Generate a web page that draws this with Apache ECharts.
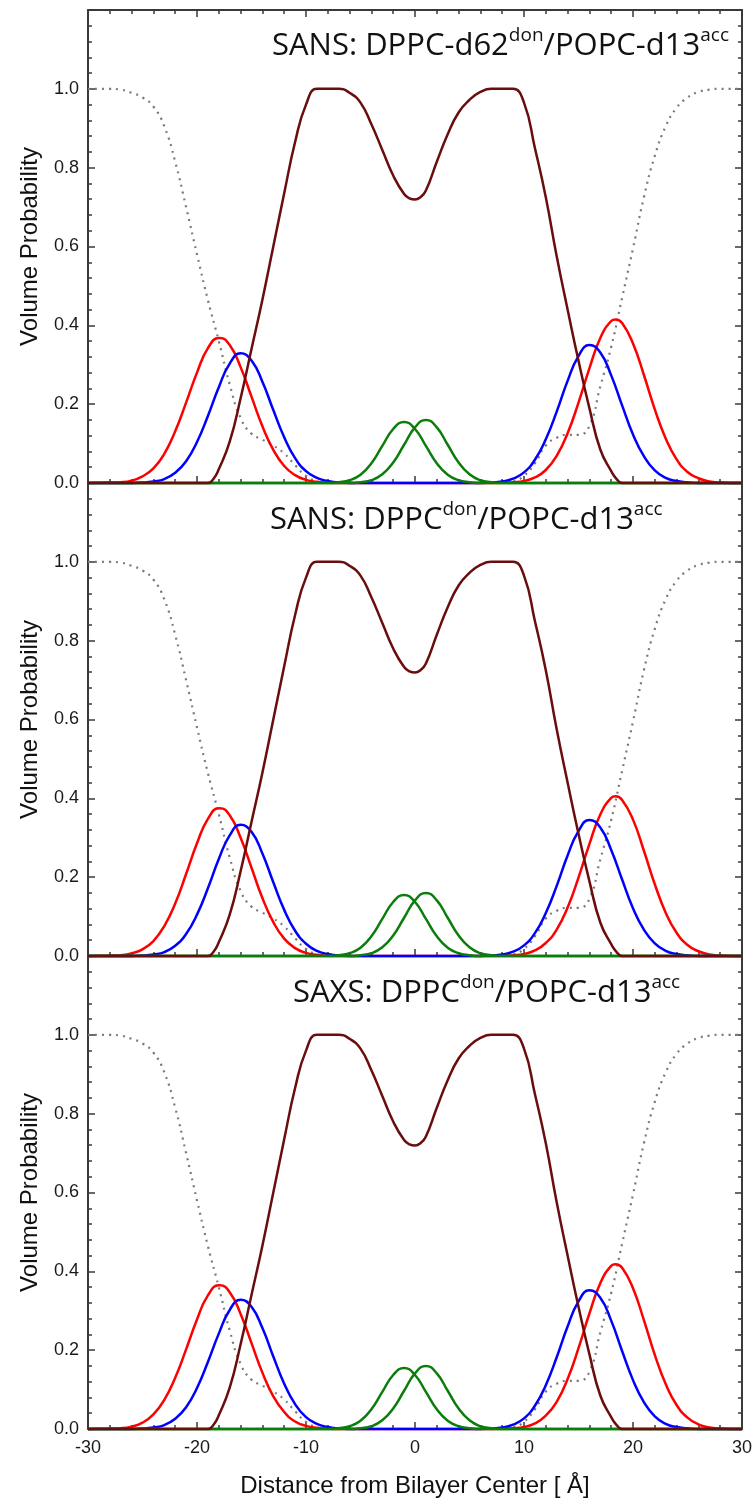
<!DOCTYPE html>
<html>
<head>
<meta charset="utf-8">
<script src="https://cdn.jsdelivr.net/npm/echarts@6/dist/echarts.min.js"></script>
<style>
  html, body { margin: 0; padding: 0; background: #ffffff; }
  #chart { width: 756px; height: 1504px; }
</style>
</head>
<body>
<div id="chart"></div>
<script>
// Volume probability profiles across the bilayer, three fits stacked.

const panelTitles = [
  ['SANS: DPPC-d62', 'don', '/POPC-d13', 'acc'],
  ['SANS: DPPC', 'don', '/POPC-d13', 'acc'],
  ['SAXS: DPPC', 'don', '/POPC-d13', 'acc']
];
const xAxisName = 'Distance from Bilayer Center [ \u00C5]';
const yAxisName = 'Volume Probability';

// hydrocarbon chains (same in all three fits)
const chains = [[-30,0],[-19,0],[-18.5,0.01],[-18,0.035],[-17,0.105],[-16,0.215],[-15,0.34],[-14,0.465],[-13,0.6],[-12,0.735],[-11,0.865],[-10,0.96],[-9,1.0],[-8,1.0],[-7,1.0],[-6,0.99],[-5,0.965],[-4,0.91],[-3,0.845],[-2,0.78],[-1,0.733],[-0.5,0.722],[0,0.719],[0.5,0.725],[1,0.742],[2,0.815],[3,0.885],[4,0.94],[5,0.972],[6,0.992],[7,1.0],[8,1.0],[9,1.0],[10,0.965],[11,0.85],[12,0.725],[13,0.575],[14,0.44],[15,0.31],[16,0.19],[17,0.085],[18,0.03],[18.5,0.01],[19,0],[30,0]];

// water (same in all three fits)
const water = [[-30,1],[-28,1],[-27,0.998],[-26,0.99],[-25,0.978],[-24,0.955],[-23,0.905],[-22,0.815],[-21,0.70],[-20,0.58],[-19,0.464],[-18,0.36],[-17,0.25],[-16,0.165],[-15,0.125],[-14,0.11],[-13,0.095],[-12,0.075],[-11,0.045],[-10,0.018],[-9,0.004],[-8,0],[8,0],[9,0.004],[10,0.018],[11,0.05],[12,0.095],[13,0.115],[14,0.122],[15,0.122],[16,0.145],[17,0.245],[18,0.345],[19,0.47],[20,0.595],[21,0.725],[22,0.83],[23,0.905],[24,0.952],[25,0.978],[26,0.992],[27,0.998],[28,1],[30,1]];

// red: phosphate groups, per fit
const red1 = [[-30,0],[-28,0.001],[-27,0.002],[-26,0.006],[-25,0.017],[-24,0.037],[-23,0.074],[-22,0.131],[-21,0.204],[-20,0.280],[-19,0.342],[-18,0.368],[-17.9,0.368],[-17,0.350],[-16,0.294],[-15,0.219],[-14,0.144],[-13,0.084],[-12,0.043],[-11,0.020],[-10,0.008],[-9,0.003],[-8,0.001],[-7,0],[7,0],[8,0.001],[9,0.002],[10,0.005],[11,0.014],[12,0.033],[13,0.069],[14,0.126],[15,0.204],[16,0.291],[17,0.368],[18,0.411],[18.4,0.415],[19,0.406],[20,0.354],[21,0.274],[22,0.187],[23,0.113],[24,0.060],[25,0.028],[26,0.012],[27,0.004],[28,0.001],[29,0],[30,0]];
const red2 = [[-30,0],[-28,0.001],[-27,0.002],[-26,0.007],[-25,0.017],[-24,0.038],[-23,0.076],[-22,0.133],[-21,0.208],[-20,0.286],[-19,0.348],[-18,0.375],[-17.9,0.375],[-17,0.357],[-16,0.300],[-15,0.224],[-14,0.147],[-13,0.086],[-12,0.044],[-11,0.020],[-10,0.008],[-9,0.003],[-8,0.001],[-7,0],[7,0],[8,0.001],[9,0.002],[10,0.005],[11,0.014],[12,0.033],[13,0.067],[14,0.123],[15,0.199],[16,0.284],[17,0.359],[18,0.401],[18.4,0.405],[19,0.396],[20,0.346],[21,0.267],[22,0.182],[23,0.110],[24,0.059],[25,0.028],[26,0.012],[27,0.004],[28,0.001],[29,0],[30,0]];
const red3 = [[-30,0],[-28,0.001],[-27,0.002],[-26,0.006],[-25,0.016],[-24,0.037],[-23,0.074],[-22,0.130],[-21,0.202],[-20,0.278],[-19,0.339],[-18,0.365],[-17.9,0.365],[-17,0.347],[-16,0.292],[-15,0.218],[-14,0.143],[-13,0.083],[-12,0.043],[-11,0.019],[-10,0.008],[-9,0.003],[-8,0.001],[-7,0],[7,0],[8,0.001],[9,0.002],[10,0.005],[11,0.014],[12,0.034],[13,0.069],[14,0.127],[15,0.205],[16,0.293],[17,0.370],[18,0.414],[18.4,0.418],[19,0.409],[20,0.357],[21,0.276],[22,0.188],[23,0.114],[24,0.061],[25,0.029],[26,0.012],[27,0.004],[28,0.001],[29,0],[30,0]];

// blue: carbonyl-glycerol groups, per fit
const blue1 = [[-30,0],[-26,0],[-25,0.001],[-24,0.004],[-23,0.010],[-22,0.026],[-21,0.055],[-20,0.104],[-19,0.170],[-18,0.243],[-17,0.303],[-16,0.329],[-15,0.311],[-14,0.257],[-13,0.185],[-12,0.116],[-11,0.063],[-10,0.030],[-9,0.013],[-8,0.005],[-7,0.001],[-6,0],[6,0],[7,0.001],[8,0.004],[9,0.011],[10,0.027],[11,0.059],[12,0.111],[13,0.181],[14,0.259],[15,0.322],[16,0.350],[17,0.331],[18,0.273],[19,0.197],[20,0.123],[21,0.068],[22,0.032],[23,0.013],[24,0.005],[25,0.002],[26,0],[30,0]];
const blue2 = [[-30,0],[-26,0],[-25,0.001],[-24,0.004],[-23,0.010],[-22,0.026],[-21,0.056],[-20,0.105],[-19,0.172],[-18,0.246],[-17,0.306],[-16,0.333],[-15,0.315],[-14,0.260],[-13,0.187],[-12,0.117],[-11,0.064],[-10,0.031],[-9,0.013],[-8,0.005],[-7,0.001],[-6,0],[6,0],[7,0.001],[8,0.004],[9,0.011],[10,0.027],[11,0.058],[12,0.109],[13,0.178],[14,0.255],[15,0.317],[16,0.345],[17,0.326],[18,0.269],[19,0.194],[20,0.121],[21,0.067],[22,0.032],[23,0.013],[24,0.005],[25,0.002],[26,0],[30,0]];
const blue3 = [[-30,0],[-26,0],[-25,0.001],[-24,0.004],[-23,0.010],[-22,0.026],[-21,0.055],[-20,0.104],[-19,0.170],[-18,0.242],[-17,0.302],[-16,0.328],[-15,0.310],[-14,0.256],[-13,0.184],[-12,0.115],[-11,0.063],[-10,0.030],[-9,0.013],[-8,0.005],[-7,0.001],[-6,0],[6,0],[7,0.001],[8,0.004],[9,0.011],[10,0.027],[11,0.059],[12,0.111],[13,0.182],[14,0.260],[15,0.324],[16,0.352],[17,0.333],[18,0.275],[19,0.198],[20,0.124],[21,0.068],[22,0.032],[23,0.013],[24,0.005],[25,0.002],[26,0],[30,0]];

// green: terminal methyl groups of each leaflet
const greenA = [[-30,0],[-8,0],[-7,0.002],[-6,0.007],[-5,0.021],[-4,0.050],[-3,0.094],[-2,0.137],[-1,0.155],[0,0.137],[1,0.094],[2,0.050],[3,0.021],[4,0.007],[5,0.002],[6,0],[30,0]];
const greenB = [[-30,0],[-6,0],[-5,0.002],[-4,0.007],[-3,0.022],[-2,0.052],[-1,0.097],[0,0.141],[1,0.160],[2,0.141],[3,0.097],[4,0.052],[5,0.022],[6,0.007],[7,0.002],[8,0],[30,0]];

const panels = [
  { title: panelTitles[0], red: red1, blue: blue1 },
  { title: panelTitles[1], red: red2, blue: blue2 },
  { title: panelTitles[2], red: red3, blue: blue3 }
];

const PLOT_LEFT = 88, PLOT_WIDTH = 654, PANEL_H = 473;
const panelTop = [10, 483, 956];
const titlePos = [
  { right: 27, top: 26 },
  { left: 270, top: 500 },
  { left: 293, top: 973 }
];

const axisColor = '#3a3a3a';
const axisLineStyle = { color: axisColor, width: 2 };
const tickStyle = { color: axisColor, width: 1.5 };
const labelStyle = { color: '#1a1a1a', fontSize: 18, fontFamily: 'Liberation Sans, Arial, sans-serif' };
const nameStyle = { color: '#111', fontSize: 24, fontFamily: 'Liberation Sans, Arial, sans-serif' };

const titleRich = {
  m: { fontFamily: 'Open Sans', fontWeight: 'normal', fontSize: 31, color: '#111', lineHeight: 36, verticalAlign: 'bottom' },
  s: { fontFamily: 'Open Sans', fontWeight: 'normal', fontSize: 19, color: '#111', lineHeight: 22, verticalAlign: 'top' }
};

function xAxisFor(i, position, withLabels) {
  return {
    gridIndex: i, type: 'value', position: position,
    min: -30, max: 30, interval: 10,
    axisLine: { show: true, onZero: false, lineStyle: axisLineStyle },
    axisTick: { show: true, inside: true, length: 7, lineStyle: tickStyle },
    minorTick: { show: true, splitNumber: 5, length: 4, lineStyle: tickStyle },
    splitLine: { show: false },
    axisLabel: { show: withLabels, margin: 10, ...labelStyle },
    name: withLabels ? xAxisName : '',
    nameLocation: 'middle', nameGap: 45, nameTextStyle: nameStyle
  };
}

function yAxisFor(i, position) {
  const left = position === 'left';
  return {
    gridIndex: i, type: 'value', position: position,
    min: 0, max: 1.2, interval: 0.2,
    axisLine: { show: true, onZero: false, lineStyle: axisLineStyle },
    axisTick: { show: true, inside: true, length: 7, lineStyle: tickStyle },
    minorTick: { show: true, splitNumber: 5, length: 4, lineStyle: tickStyle },
    splitLine: { show: false },
    axisLabel: {
      show: left, margin: 9, ...labelStyle,
      formatter: v => (v > 1.001 ? '' : v.toFixed(1))
    },
    name: left ? yAxisName : '',
    nameLocation: 'middle', nameRotate: 90, nameGap: 46, nameTextStyle: nameStyle
  };
}

function line(data, i, color, width, type) {
  return {
    type: 'line', data: data, xAxisIndex: i, yAxisIndex: 2 * i,
    showSymbol: false, smooth: 0.5, silent: true, clip: false,
    lineStyle: { color: color, width: width, type: type || 'solid', cap: 'butt' }
  };
}

const option = {
  animation: false,
  backgroundColor: '#ffffff',
  grid: panelTop.map(t => ({ left: PLOT_LEFT, width: PLOT_WIDTH, top: t, height: PANEL_H })),
  title: panels.map((p, i) => ({
    text: '{m|' + p.title[0] + '}{s|' + p.title[1] + '}{m|' + p.title[2] + '}{s|' + p.title[3] + '}',
    padding: 0,
    ...titlePos[i],
    textStyle: { fontWeight: 'normal', rich: titleRich }
  })),
  xAxis: [],
  yAxis: [],
  series: []
};

panels.forEach((p, i) => {
  option.xAxis.push(xAxisFor(i, 'bottom', i === panels.length - 1));
  option.yAxis.push(yAxisFor(i, 'left'));
  option.yAxis.push(yAxisFor(i, 'right'));
  option.series.push(line(water, i, '#7a7a7a', 2.2, [2, 5]));
  option.series.push(line(p.red, i, '#ff0000', 2.5));
  option.series.push(line(p.blue, i, '#0000ff', 2.5));
  option.series.push(line(greenA, i, '#0a7d0a', 2.5));
  option.series.push(line(greenB, i, '#0a7d0a', 2.5));
  option.series.push(line(chains, i, '#6a0d0d', 2.5));
});
// top frame of the first panel
option.xAxis.push(xAxisFor(0, 'top', false));

const chart = echarts.init(document.getElementById('chart'), null, { renderer: 'canvas' });
chart.setOption(option);
</script>
</body>
</html>
